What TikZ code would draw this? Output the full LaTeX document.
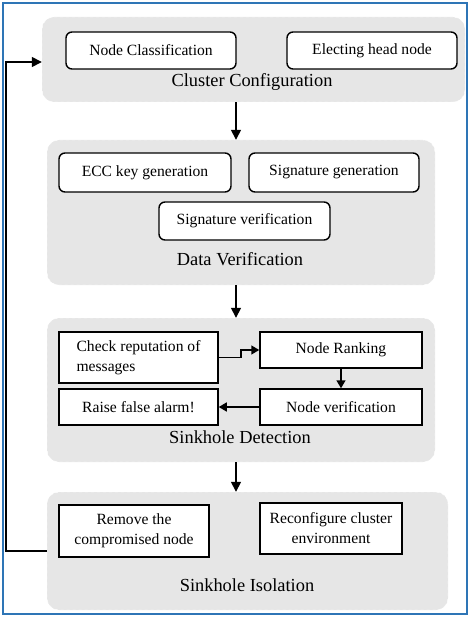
\documentclass[tikz,border=0pt]{standalone}
\usepackage{fontspec}
\setmainfont{Liberation Serif}
\usetikzlibrary{arrows.meta, positioning}
\definecolor{framebl}{HTML}{2E75B6}
\definecolor{grpgray}{HTML}{E6E6E6}

\begin{document}
\begin{tikzpicture}[
  x=1pt, y=-1pt,
  group/.style={rectangle, fill=grpgray, draw=white, dashed, rounded corners=12pt,
                inner sep=0pt},
  rbox/.style={rectangle, draw, line width=1.4pt, fill=white, rounded corners=6pt,
               align=center, font=\fontsize{15.6}{20}\selectfont, inner sep=2pt},
  sbox/.style={rectangle, draw, line width=1.5pt, fill=white,
               align=center, font=\fontsize{15.6}{20}\selectfont, inner sep=2pt},
  glabel/.style={font=\fontsize{18.4}{20}\selectfont, inner sep=0pt},
  arr/.style={-{Triangle[length=10pt, width=10pt]}, line width=1.5pt},
  iarr/.style={-{Triangle[length=8pt, width=9pt]}, line width=1.5pt}
]
\useasboundingbox (0,0) rectangle (471,617);
\draw[framebl, line width=2pt] (3,3) rectangle (467,614);

% ----- Group 1: Cluster Configuration -----
\node[group, minimum width=423pt, minimum height=85pt] (g1) at (253.5,59.5) {};
\node[rbox, minimum width=170pt, minimum height=37pt] (ncl) at (151,50.5) {Node Classification};
\node[rbox, minimum width=170pt, minimum height=37pt] (ehn) at (372,50.5) {Electing head node};
\node[glabel] (l1) at (252,82) {Cluster Configuration};

% ----- Group 2: Data Verification -----
\node[group, minimum width=388pt, minimum height=145pt] (g2) at (241,212.5) {};
\node[rbox, minimum width=172pt, minimum height=39pt] (ecc) at (145,172.5) {ECC key generation};
\node[rbox, minimum width=170pt, minimum height=39pt] (sgen) at (334,172.5) {Signature generation};
\node[rbox, minimum width=171pt, minimum height=38pt] (sver) at (244.5,221) {Signature verification};
\node[glabel] (l2) at (240,259) {Data Verification};

% ----- Group 3: Sinkhole Detection -----
\node[group, minimum width=388pt, minimum height=144pt] (g3) at (241,390) {};
\node[sbox, minimum width=159pt, minimum height=51pt, align=left]
  (crep) at (138.5,357.5) {Check reputation of\\messages};
\node[sbox, minimum width=162pt, minimum height=36pt] (nrank) at (341,350) {Node Ranking};
\node[sbox, minimum width=162pt, minimum height=36pt] (nver) at (341,407) {Node verification};
\node[sbox, minimum width=159pt, minimum height=36pt] (alarm) at (138.5,407) {Raise false alarm!};
\node[glabel] (l3) at (240,437) {Sinkhole Detection};

% ----- Group 4: Sinkhole Isolation -----
\node[group, minimum width=401pt, minimum height=118pt] (g4) at (247.5,551) {};
\node[sbox, minimum width=150pt, minimum height=52pt] (rem) at (134,531) {Remove the\\compromised node};
\node[sbox, minimum width=142pt, minimum height=51pt] (recf) at (331,528.5) {Reconfigure cluster\\environment};
\node[glabel] (l4) at (247,585) {Sinkhole Isolation};

% ----- arrows -----
\coordinate (ax) at (236,0);
\coordinate (fb) at (6,62);
\draw[arr] (g1.south -| ax) -- (g2.north -| ax);
\draw[arr] (g2.south -| ax) -- (g3.north -| ax);
\draw[arr] (g3.south -| ax) -- (g4.north -| ax);
\draw[iarr] (crep.east) -- ++(22,0) |- (nrank.west);
\draw[iarr] (nrank) -- (nver);
\draw[iarr] (nver) -- (alarm);
\draw[arr] (g4.west) -| (fb) -- (fb -| g1.west);

\end{tikzpicture}
\end{document}
